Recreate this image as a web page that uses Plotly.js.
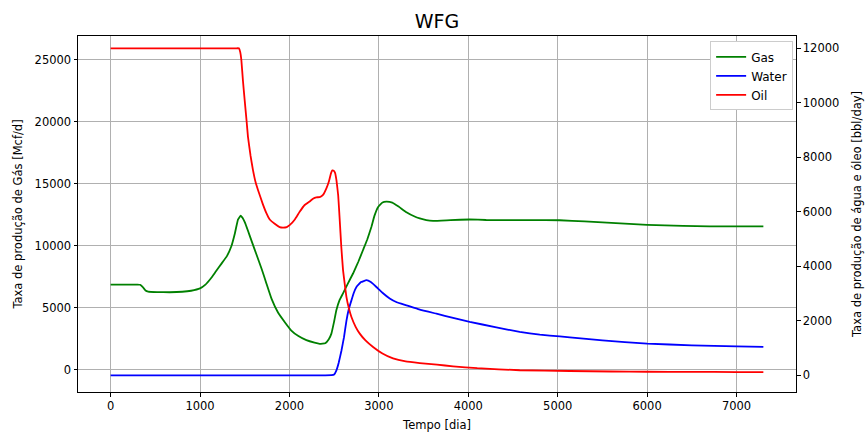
<!DOCTYPE html>
<html>
<head>
<meta charset="utf-8">
<script src="https://cdn.plot.ly/plotly-3.0.1.min.js"></script>
<style>
  html, body { margin: 0; padding: 0; background: #fff; }
  #chart { width: 866px; height: 432px; }
</style>
</head>
<body>
<div id="chart"></div>
<script>
// Production rates over time (days)
const gasDays = [0, 100, 200, 300, 330, 360, 390, 420, 520, 660, 800, 900, 1000, 1060, 1120, 1180, 1240, 1300, 1350, 1390, 1424, 1455, 1475, 1500, 1536, 1580, 1630, 1690, 1742, 1800, 1872, 1950, 2021, 2100, 2189, 2280, 2338, 2400, 2440, 2469, 2500, 2525, 2560, 2599, 2650, 2711, 2770, 2823, 2870, 2916, 2950, 2990, 3040, 3084, 3150, 3220, 3308, 3400, 3457, 3530, 3606, 3800, 4016, 4200, 4389, 4700, 5023, 5300, 5600, 6000, 6400, 6700, 7000, 7300];
const gasRate = [6860, 6860, 6860, 6860, 6840, 6650, 6380, 6290, 6250, 6240, 6280, 6360, 6550, 6850, 7350, 7950, 8550, 9150, 9950, 11000, 12100, 12420, 12250, 11900, 11200, 10300, 9300, 8100, 6950, 5700, 4600, 3800, 3150, 2700, 2370, 2170, 2080, 2130, 2450, 2900, 3900, 4800, 5600, 6150, 6900, 7750, 8700, 9650, 10500, 11500, 12400, 13100, 13480, 13550, 13470, 13150, 12700, 12350, 12200, 12060, 12000, 12060, 12110, 12070, 12060, 12060, 12050, 11950, 11830, 11680, 11600, 11550, 11550, 11550];

const waterDays = [0, 500, 1000, 1500, 2000, 2400, 2470, 2500, 2525, 2550, 2581, 2610, 2637, 2665, 2693, 2720, 2749, 2800, 2861, 2910, 2972, 3040, 3121, 3200, 3308, 3450, 3644, 3830, 4016, 4300, 4575, 4800, 5023, 5135, 5500, 6000, 6500, 7000, 7300];
const waterRate = [0, 0, 0, 0, 0, 0, 5, 30, 180, 450, 900, 1400, 2000, 2450, 2750, 3030, 3240, 3420, 3490, 3420, 3240, 3030, 2820, 2680, 2570, 2420, 2260, 2110, 1960, 1770, 1590, 1490, 1430, 1390, 1280, 1164, 1100, 1065, 1040];

const oilDays = [0, 300, 600, 900, 1200, 1400, 1435, 1450, 1462, 1480, 1499, 1520, 1536, 1565, 1592, 1620, 1648, 1700, 1742, 1779, 1835, 1890, 1928, 1970, 2002, 2060, 2114, 2170, 2226, 2263, 2301, 2338, 2375, 2413, 2440, 2465, 2480, 2495, 2510, 2525, 2545, 2562, 2580, 2599, 2620, 2637, 2665, 2693, 2740, 2786, 2850, 2935, 3040, 3158, 3300, 3457, 3650, 3830, 4100, 4575, 5135, 5600, 6000, 6500, 7000, 7300];
const oilRate = [12000, 12000, 12000, 12000, 12000, 12000, 12000, 11850, 11570, 10800, 10100, 9350, 8750, 8050, 7530, 7100, 6800, 6300, 5950, 5720, 5560, 5440, 5420, 5440, 5510, 5720, 6000, 6250, 6380, 6480, 6530, 6540, 6620, 6860, 7100, 7420, 7520, 7510, 7430, 7170, 6600, 5700, 4700, 3860, 3300, 2880, 2450, 2140, 1780, 1530, 1280, 1040, 800, 620, 510, 450, 390, 330, 260, 185, 158, 140, 130, 125, 120, 115];

const seriesNames = ['Gas', 'Water', 'Oil'];
const xTicks = [0, 1000, 2000, 3000, 4000, 5000, 6000, 7000];

const font = 'DejaVu Sans, sans-serif';
const lineW = 1.8;
const smooth = 0.3;

const traces = [
  { x: gasDays, y: gasRate, name: seriesNames[0], type: 'scatter', mode: 'lines',
    line: { color: '#008000', width: lineW, shape: 'spline', smoothing: smooth }, yaxis: 'y' },
  { x: waterDays, y: waterRate, name: seriesNames[1], type: 'scatter', mode: 'lines',
    line: { color: '#0000ff', width: lineW, shape: 'spline', smoothing: smooth }, yaxis: 'y2' },
  { x: oilDays, y: oilRate, name: seriesNames[2], type: 'scatter', mode: 'lines',
    line: { color: '#ff0000', width: lineW, shape: 'spline', smoothing: smooth }, yaxis: 'y2' }
];

const axisCommon = {
  showline: true, linecolor: '#000', linewidth: 1,
  ticks: 'outside', ticklen: 3.5, tickwidth: 1, tickcolor: '#000',
  tickfont: { family: font, size: 11.5, color: '#000' },
  tickformat: 'd', separatethousands: false,
  zeroline: false
};

const layout = {
  width: 866, height: 432,
  margin: { l: 78, r: 70, t: 36, b: 40 },
  paper_bgcolor: '#fff', plot_bgcolor: '#fff',
  font: { family: font, color: '#000' },
  title: { text: 'WFG', font: { family: font, size: 19, color: '#000' },
           x: 0.5, xref: 'paper', y: 1 - 21 / 432, yref: 'container', yanchor: 'middle' },
  showlegend: true,
  legend: { x: 0.996, xanchor: 'right', y: 0.985, yanchor: 'top',
            bgcolor: '#fff', bordercolor: '#cccccc', borderwidth: 1,
            font: { family: font, size: 12, color: '#000' } },
  xaxis: Object.assign({}, axisCommon, {
    range: [-365, 7665], tickvals: xTicks, mirror: true,
    showgrid: true, gridcolor: '#b0b0b0', gridwidth: 1,
    title: { text: 'Tempo [dia]', font: { family: font, size: 11.5, color: '#000' }, standoff: 8 }
  }),
  yaxis: Object.assign({}, axisCommon, {
    range: [-1809, 26914], tick0: 0, dtick: 5000,
    showgrid: true, gridcolor: '#b0b0b0', gridwidth: 1,
    title: { text: 'Taxa de produção de Gás [Mcf/d]', font: { family: font, size: 11.5, color: '#000' }, standoff: 9 }
  }),
  yaxis2: Object.assign({}, axisCommon, {
    range: [-613, 12452], tick0: 0, dtick: 2000,
    overlaying: 'y', side: 'right', showgrid: false,
    title: { text: 'Taxa de produção de água e óleo [bbl/day]', font: { family: font, size: 11.5, color: '#000' }, standoff: 14 }
  })
};

Plotly.newPlot('chart', traces, layout, { displayModeBar: false, staticPlot: true });
</script>
</body>
</html>
